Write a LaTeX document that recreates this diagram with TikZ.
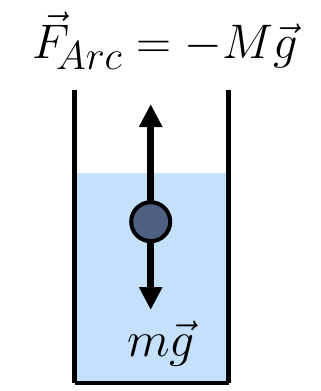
\documentclass[tikz,border=0pt]{standalone}
\usetikzlibrary{arrows.meta}
\definecolor{water}{RGB}{197,224,250}
\definecolor{ballc}{RGB}{78,95,127}
\tikzset{
  wall/.style={line width=5.5pt, black},
  force/.style={line width=6.5pt, -{Triangle[length=23pt,width=22pt]}},
  lbl/.style={inner sep=0pt, font=\Huge}
}
\begin{document}
\begin{tikzpicture}[x=1pt,y=-1pt]
\useasboundingbox (0,0) rectangle (321,391);
% water
\fill[water] (77,173) rectangle (226,383);
% container
\coordinate (tl) at (74.5,90);
\coordinate (bl) at (74.5,383);
\coordinate (br) at (228.5,383);
\coordinate (tr) at (228.5,90);
\draw[wall] (tl) -- (bl);
\draw[wall] (tr) -- (br);
\draw[line width=4pt] (bl) -- (br);
% forces
\coordinate (up) at (150.7,104);
\coordinate (down) at (150.7,310);
\node[circle, minimum size=39pt, inner sep=0pt] (ball) at (150.7,221.7) {};
\draw[force] (ball.center) -- (up);
\draw[force] (ball.center) -- (down);
\node[circle, draw=black, line width=4pt, fill=ballc, minimum size=39pt, inner sep=0pt] at (ball) {};
% labels
\node[lbl, scale=1.95] (top) at (165,41) {$\vec{F}_{\!Arc}=-M\vec{g}$};
\node[lbl, scale=2.0] (mg) at (161,344) {$m\vec{g}$};
\end{tikzpicture}
\end{document}
